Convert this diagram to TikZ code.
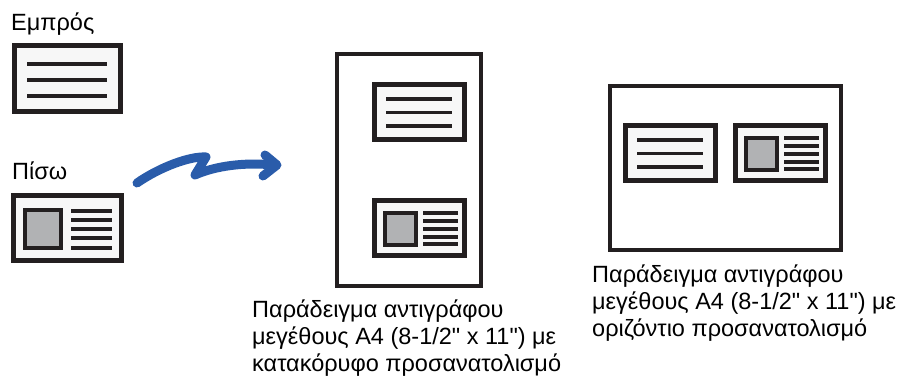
\documentclass[tikz,border=0pt]{standalone}
\usepackage{fontspec}
\setmainfont{Liberation Sans}[Ligatures=TeXOff]
\definecolor{ink}{HTML}{231F20}
\definecolor{paper}{HTML}{F7F7F7}
\definecolor{photo}{HTML}{B1B2B4}
\definecolor{arrowblue}{HTML}{2A5CAA}
\begin{document}
\begin{tikzpicture}[x=1pt,y=-1pt,
  card/.style={draw=ink,line width=5pt,fill=paper},
  pagebox/.style={draw=ink,line width=4.5pt,fill=white},
  photobox/.style={draw=ink,line width=4pt,fill=photo},
  txtline/.style={draw=ink,line width=3.6pt,line cap=butt},
  label/.style={anchor=base west,inner sep=0pt,font=\fontsize{23.5}{27}\selectfont,align=left},
  caption/.style={anchor=north west,inner sep=0pt,font=\fontsize{23.5}{27}\selectfont,align=left}]
\useasboundingbox (0,0) rectangle (904,382);
\newcommand\frontcard[2]{%
  \begin{scope}[shift={(#1,#2)}]
    \draw[card] (2.5,2.5) rectangle (108.5,68.5);
    \foreach \yy in {21,37,53} \draw[txtline] (15,\yy) -- (95,\yy);
  \end{scope}}
\newcommand\backcard[2]{%
  \begin{scope}[shift={(#1,#2)}]
    \draw[card] (2.5,2.5) rectangle (110.5,67.5);
    \draw[photobox] (14,17) rectangle (50,55);
    \foreach \yy in {18,27,36,45,55} \draw[txtline] (60,\yy) -- (101,\yy);
  \end{scope}}
\newcommand\frontsmall[2]{%
  \begin{scope}[shift={(#1,#2)}]
    \draw[card] (2.5,2.5) rectangle (92.5,57.5);
    \foreach \yy in {17,30.5,44} \draw[txtline] (14,\yy) -- (80,\yy);
  \end{scope}}
\newcommand\backsmall[2]{%
  \begin{scope}[shift={(#1,#2)}]
    \draw[card] (2.5,2.5) rectangle (92.5,57.5);
    \draw[photobox] (13,15) rectangle (44,47);
    \foreach \yy in {15,23,31,39,46} \draw[txtline] (51,\yy) -- (86,\yy);
  \end{scope}}
\node[label] (front) at (11,31) {Εμπρός};
\frontcard{12}{43}
\node[label] (back) at (12,179) {Πίσω};
\backcard{11}{193}
% arrow
\draw[arrowblue,line width=9pt,line cap=round,line join=round]
  (137,183) .. controls (160,167) and (190,156) .. (206,157) -- (195,175)
  .. controls (215,166) and (245,162) .. (273,165);
\draw[arrowblue,line width=9pt,line cap=round,line join=round]
  (265,155) -- (277,165) -- (263,176);
% portrait page
\draw[pagebox] (337,54) rectangle (481,286);
\frontsmall{372}{82}
\backsmall{372}{198}
% landscape page
\draw[pagebox] (610,86) rectangle (841,250);
\frontsmall{623}{123}
\backsmall{733}{123}
% captions
\node[caption] (cap1) at (252,300) {Παράδειγμα αντιγράφου\\μεγέθους A4 (8-1/2" x 11") με\\κατακόρυφο προσανατολισμό};
\node[caption] (cap2) at (592,265) {Παράδειγμα αντιγράφου\\μεγέθους A4 (8-1/2" x 11") με\\οριζόντιο προσανατολισμό};
\end{tikzpicture}
\end{document}
